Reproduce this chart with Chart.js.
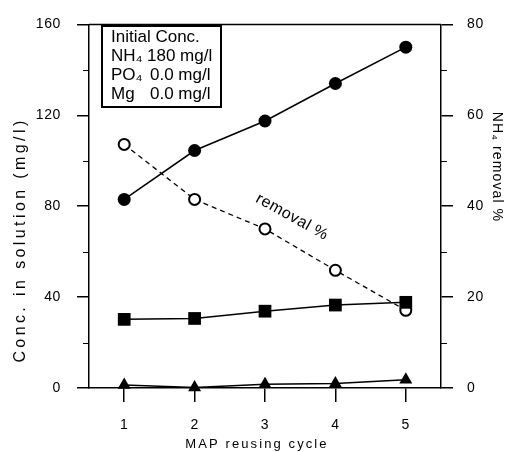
<!DOCTYPE html>
<html>
<head>
<meta charset="utf-8">
<script src="https://cdn.jsdelivr.net/npm/chart.js@4"></script>
<style>
  html, body { margin: 0; padding: 0; background: #fff; }
  #wrap { width: 513px; height: 452px; }
</style>
</head>
<body>
<div id="wrap"><canvas id="myChart"></canvas></div>
<script>
// MAP reusing cycles
const cycles = [1, 2, 3, 4, 5];
// concentrations in solution (mg/l)
const nh4Conc = [83, 104.5, 117.5, 134, 150];
const po4Conc = [30.2, 30.6, 33.8, 36.5, 37.7];
const mgConc = [1.3, 0.2, 1.7, 2.0, 3.6];
// NH4 removal (%)
const nh4Removal = [53.6, 41.5, 35.0, 25.9, 17.1];

// tick labels
const xTicks = [1, 2, 3, 4, 5];
const leftTicks = [0, 40, 80, 120, 160];
const rightTicks = [0, 20, 40, 60, 80];
const leftMinor = [20, 60, 100, 140];
const rightMinor = [10, 30, 50, 70];

// text in the box
const boxLabels = [
  ['Initial Conc.', ''],
  ['NH\u2084', '180 mg/l'],
  ['PO\u2084', '0.0 mg/l'],
  ['Mg', '0.0 mg/l']
];

const FONT = "'Liberation Sans', Arial, sans-serif";
const black = '#000';

Chart.defaults.font.family = FONT;
Chart.defaults.color = black;

function pts(values) {
  return cycles.map(function(c, i) { return { x: c, y: values[i] }; });
}

// draw text with a given letter spacing
function spacedText(ctx, text, x, y, spacing) {
  ctx.letterSpacing = spacing + 'px';
  ctx.fillText(text, x, y);
  ctx.letterSpacing = '0px';
}

const extras = {
  id: 'extras',
  beforeDraw: function(chart) {
    chart.ctx.letterSpacing = '0.6px';
  },
  afterDraw: function(chart) {
    const ctx = chart.ctx;
    const a = chart.chartArea;
    const y = chart.scales.y;
    const y2 = chart.scales.y2;
    ctx.save();
    ctx.letterSpacing = '0px';
    ctx.strokeStyle = black;
    ctx.fillStyle = black;

    // top frame line
    ctx.lineWidth = 1.5;
    ctx.beginPath();
    ctx.moveTo(a.left, a.top);
    ctx.lineTo(a.right, a.top);
    ctx.stroke();

    // minor ticks
    ctx.lineWidth = 1;
    ctx.beginPath();
    leftMinor.forEach(function(v) {
      const py = Math.round(y.getPixelForValue(v)) + 0.5;
      ctx.moveTo(a.left - 6, py);
      ctx.lineTo(a.left, py);
    });
    rightMinor.forEach(function(v) {
      const py = Math.round(y2.getPixelForValue(v)) + 0.5;
      ctx.moveTo(a.right, py);
      ctx.lineTo(a.right + 6, py);
    });
    ctx.stroke();

    // axis titles
    ctx.textAlign = 'center';
    ctx.textBaseline = 'middle';
    ctx.font = '16px ' + FONT;
    ctx.save();
    ctx.translate(21, 240);
    ctx.rotate(-Math.PI / 2);
    spacedText(ctx, 'Conc. in solution (mg/l)', 0, 0, 3.4);
    ctx.restore();

    ctx.font = '14px ' + FONT;
    ctx.save();
    ctx.translate(497, 167);
    ctx.rotate(Math.PI / 2);
    spacedText(ctx, 'NH\u2084 removal %', 0, 0, 1.1);
    ctx.restore();

    ctx.font = '13px ' + FONT;
    spacedText(ctx, 'MAP reusing cycle', 257, 444, 2.1);

    // "removal %" label along the dashed line
    ctx.font = '16px ' + FONT;
    ctx.save();
    ctx.translate(292, 217);
    ctx.rotate(29 * Math.PI / 180);
    spacedText(ctx, 'removal %', 0, 0, 0.5);
    ctx.restore();

    // initial concentration box
    ctx.lineWidth = 2;
    ctx.strokeRect(102, 26, 119, 81);
    ctx.font = '17px ' + FONT;
    ctx.textAlign = 'left';
    ctx.textBaseline = 'alphabetic';
    const baseY = [42, 61, 80, 99];
    const valueX = [0, 147, 150, 150];
    boxLabels.forEach(function(row, i) {
      ctx.fillText(row[0], 111, baseY[i]);
      if (row[1]) ctx.fillText(row[1], valueX[i], baseY[i]);
    });
    ctx.restore();
  }
};

const data = {
  datasets: [{
    label: 'NH4',
    data: pts(nh4Conc),
    yAxisID: 'y',
    borderColor: black,
    borderWidth: 1.5,
    pointStyle: 'circle',
    pointRadius: 6.5,
    pointBackgroundColor: black,
    pointBorderWidth: 0,
    clip: false
  }, {
    label: 'PO4',
    data: pts(po4Conc),
    yAxisID: 'y',
    borderColor: black,
    borderWidth: 1.5,
    pointStyle: 'rect',
    pointRadius: 9,
    pointBackgroundColor: black,
    pointBorderWidth: 0,
    clip: false
  }, {
    label: 'Mg',
    data: pts(mgConc),
    yAxisID: 'y',
    borderColor: black,
    borderWidth: 1.5,
    pointStyle: 'triangle',
    pointRadius: 7.5,
    pointBackgroundColor: black,
    pointBorderWidth: 0,
    clip: false
  }, {
    label: 'NH4 removal %',
    data: pts(nh4Removal),
    yAxisID: 'y2',
    borderColor: black,
    borderWidth: 1.3,
    borderDash: [5, 4],
    pointStyle: 'circle',
    pointRadius: 5.5,
    pointBackgroundColor: '#fff',
    pointBorderColor: black,
    pointBorderWidth: 2,
    clip: false
  }]
};

const config = {
  type: 'line',
  data: data,
  plugins: [extras],
  options: {
    responsive: true,
    maintainAspectRatio: false,
    animation: false,
    layout: { padding: { top: 15, left: 0, right: 0, bottom: 0 } },
    plugins: {
      legend: { display: false },
      tooltip: { enabled: false }
    },
    scales: {
      x: {
        type: 'linear',
        min: 0.5,
        max: 5.5,
        afterBuildTicks: function(s) { s.ticks = xTicks.map(function(v) { return { value: v }; }); },
        afterFit: function(s) { s.height = 64; },
        grid: { drawOnChartArea: false, tickLength: 14, color: black, lineWidth: 1.5 },
        border: { color: black, width: 1.5 },
        ticks: { color: black, font: { size: 14 }, padding: 15 }
      },
      y: {
        position: 'left',
        min: 0,
        max: 160,
        afterBuildTicks: function(s) { s.ticks = leftTicks.map(function(v) { return { value: v }; }); },
        afterFit: function(s) { s.width = 89; },
        grid: { drawOnChartArea: false, tickLength: 12, color: black, lineWidth: 1.5 },
        border: { color: black, width: 1.5 },
        ticks: { color: black, font: { size: 14 }, padding: 16 }
      },
      y2: {
        position: 'right',
        min: 0,
        max: 80,
        afterBuildTicks: function(s) { s.ticks = rightTicks.map(function(v) { return { value: v }; }); },
        afterFit: function(s) { s.width = 72; },
        grid: { drawOnChartArea: false, tickLength: 12, color: black, lineWidth: 1.5 },
        border: { color: black, width: 1.5 },
        ticks: { color: black, font: { size: 14 }, padding: 14 }
      }
    }
  }
};

const myChart = new Chart(document.getElementById('myChart'), config);
</script>
</body>
</html>
